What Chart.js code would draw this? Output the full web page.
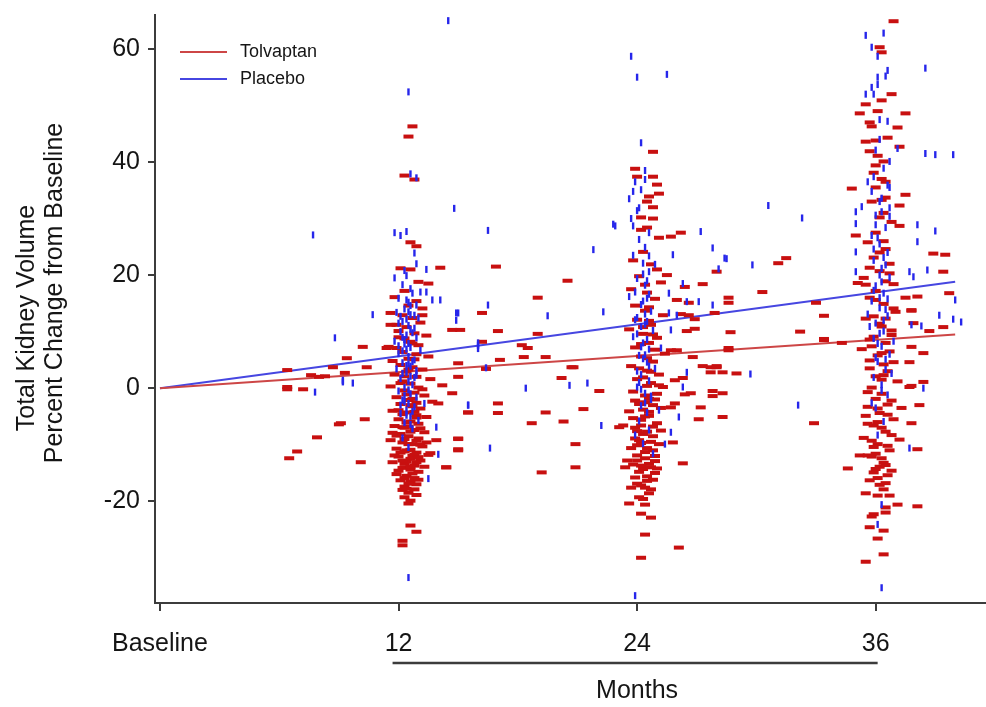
<!DOCTYPE html>
<html>
<head>
<meta charset="utf-8">
<script src="https://cdn.jsdelivr.net/npm/chart.js@4.4.1/dist/chart.umd.min.js"></script>
<style>
  html, body { margin: 0; padding: 0; background: #fff; overflow: hidden; }
  #wrap { width: 986px; height: 707px; position: relative; }
</style>
</head>
<body>
<div id="wrap"><canvas id="tkvChart"></canvas></div>
<script>
// tick values / labels
const monthTicks = [0, 12, 24, 36];
const monthLabels = ['Baseline', '12', '24', '36'];
const yTicks = [-20, 0, 20, 40, 60];

// regression lines [month, % change]
const tolvaptanTrend = [[0, 0], [40, 9.5]];
const placeboTrend = [[0, 0], [40, 18.8]];

// Tolvaptan (red) points, [month, % change]
const tolvaptan12 = [
  [12.7,46.3],[12.5,44.5],[12.3,37.6],[12.8,36.9],[12.6,25.8],[12.9,25.1],[12.1,21.2],[12.6,21],[13.0,18.8],[12.3,17.2],
  [11.8,16.1],[12.9,15.4],[12.5,14.6],[13.2,14.1],[11.6,13.3],[12.2,12.9],[12.7,12.4],[11.9,11.2],[13.1,11.6],[12.4,10.8],
  [12.0,10.1],[12.8,9.7],[13.4,9.3],[11.5,7.3],[12.3,8.8],[12.6,8.2],[13.0,7.6],[11.9,7.1],[12.2,6.4],[12.9,6.0],
  [13.5,5.6],[12.5,5.2],[11.7,4.8],[12.1,4.1],[12.7,3.7],[13.2,3.3],[12.4,2.9],[11.8,2.4],[12.9,2.0],[13.6,1.6],
  [12.2,1.2],[12.6,0.8],[11.6,0.3],[13.0,0.1],[12.3,-0.4],[12.8,-0.8],[13.3,-1.3],[11.9,-1.6],[12.5,-2.1],[13.7,-2.4],
  [12.1,-2.8],[12.7,-3.2],[13.1,-3.6],[11.7,-4.0],[12.4,-4.3],[12.9,-4.8],[13.4,-5.1],[12.0,-5.5],[12.6,-5.9],[13.0,-6.3],
  [11.8,-6.7],[12.3,-7.0],[12.8,-7.4],[13.3,-7.8],[12.1,-8.1],[12.5,-8.5],[13.0,-8.9],[11.6,-9.2],[12.2,-9.6],[12.7,-9.9],
  [13.2,-10.3],[11.9,-10.7],[12.4,-11.0],[12.9,-11.4],[13.5,-11.8],[12.0,-12.1],[12.6,-12.5],[13.1,-12.8],[11.7,-13.1],[12.3,-13.4],
  [12.8,-13.7],[12.2,-14.1],[12.6,-14.4],[13.0,-14.8],[11.9,-15.2],[12.4,-15.5],[12.8,-15.9],[12.1,-16.3],[12.6,-16.6],[12.3,-17.4],
  [12.9,-17.0],[12.5,-18.5],[12.3,-19.3],[12.5,-20.4],[12.6,-24.3],[12.9,-25.4],[12.2,-27.0],[12.2,-27.8],[14.1,21.3],[13.5,18.5],
  [14.4,-14.0],[15.0,-11.0],[15.0,-9.0],[13.9,-9.2],[13.6,-11.5],[14.0,-2.7],[14.7,-0.9],[14.2,0.5],[15.1,10.3],[14.7,10.3],
  [12.0,-3.9],[12.9,-9.3],[12.4,-6.1],[13.3,-13.9],[11.8,-11.9],[12.6,-10.9],[12.2,-4.6],[13.1,-7.1],[12.7,-12.0],[12.3,-15.9],
  [12.9,-13.1],[12.5,-9.9],[11.9,-8.4],[12.7,-1.9],[13.2,-0.2],[12.3,2.1],[12.8,5.1],[12.0,9.0],[13.2,12.9],[12.5,-16.9],
  [12.1,-11.4],[13.4,-9.6],[12.6,-7.7],[12.4,-13.0],[13.0,-16.2],[12.2,-18.0],[12.8,-17.9],[12.6,-19.9],[12.9,-2.6],[11.7,-7.9],
  [12.4,-1.1],[12.9,-5.2],[12.2,-12.8],[12.7,-15.1],[12.5,-6.8],[13.1,-10.0],[12.0,-14.6],[12.6,-3.0],[12.3,-9.0],[12.8,-11.8],
  [12.1,0.9],[12.5,3.3],[12.9,-18.9],[12.4,-17.8],[12.7,7.9],[12.2,-6.9],[13.0,-12.2],[12.6,-13.9],[12.3,-11.2],[12.8,-4.2]
];
const tolvaptan24 = [
  [24.8,41.8],[23.9,38.8],[24.0,37.4],[24.8,37.4],[25.0,36],[25.1,34.4],[24.6,33.9],[24.5,33],[24.8,32],[24.2,30.2],
  [24.8,30],[24.2,28],[24.5,28.4],[25.1,26.6],[25.7,26.8],[26.2,27.5],[25.0,21],[25.5,20],[27.3,18.4],[26.4,17.9],
  [26.0,15.6],[26.6,15.1],[28.6,16],[28.6,15.1],[27.9,13.3],[26.2,13.1],[26.6,12.9],[26.9,12.2],[28.7,9.9],[26.9,10.5],
  [26.5,10.1],[26.0,6.7],[25.7,6.7],[28.6,6.7],[26.8,5.5],[27.7,3.7],[28.0,3.7],[28.0,20.6],[27.3,3.9],[28.0,3.9],
  [27.7,2.8],[28.3,2.8],[29.0,2.6],[25.9,1.4],[26.3,1.8],[27.8,-0.5],[28.3,-0.9],[27.8,-1.4],[26.4,-1.1],[26.7,-0.9],
  [27.2,-3.4],[27.1,-5.5],[28.3,-5.1],[25.7,-3.4],[25.9,-2.7],[26.3,-13.3],[25.8,-9.6],[23.5,-12.8],[23.4,-14],[23.3,-6.6],
  [23.1,-6.9],[24.3,24.1],[23.8,22.6],[24.7,21.9],[24.1,19.8],[25.2,18.7],[23.7,17.5],[24.5,16.9],[24.9,15.8],[23.9,14.6],
  [24.4,13.7],[25.3,12.9],[24.0,12.1],[24.7,11.2],[23.6,10.4],[24.3,9.6],[25.0,8.9],[24.6,8.0],[23.9,7.2],[25.4,6.1],
  [24.2,5.6],[24.8,4.7],[23.7,3.9],[24.5,3.1],[25.1,2.4],[24.0,1.6],[24.7,0.9],[25.3,0.2],[23.8,-0.6],[24.4,-1.3],
  [24.9,-2.0],[24.1,-2.8],[25.2,-3.5],[23.6,-4.1],[24.6,-4.9],[24.2,-5.6],[25.0,-6.2],[23.9,-7.0],[24.5,-7.7],[24.8,-8.5],
  [24.1,-9.2],[25.1,-9.9],[23.7,-10.6],[24.4,-11.3],[24.9,-12.0],[24.0,-12.8],[24.6,-13.4],[24.3,-14.3],[24.9,-15.0],[23.9,-15.8],
  [24.5,-16.4],[24.2,-17.2],[24.7,-17.9],[24.4,-17.6],[24.3,-8.1],[24.8,-3.0],[24.0,-10.1],[24.6,-1.9],[23.8,-5.3],[24.4,-12.4],
  [25.0,-14.2],[24.2,-6.6],[24.7,-9.5],[24.5,0.4],[24.1,3.5],[24.9,6.8],[24.3,10.8],[24.6,14.3],[23.9,-2.2],[24.5,-15.6],
  [24.2,-13.7],[25.2,-7.5],[24.0,-16.9],[24.8,-11.0],[23.9,-8.9],[24.6,-4.2],[24.3,1.9],[24.8,9.5],[24.4,18.3],[25.0,-1.0],
  [24.1,-19.3],[23.6,-20.4],[24.4,-20.6],[24.2,-22.2],[24.7,-22.9],[24.4,-25.9],[26.1,-28.2],[24.2,-30.0],[23.7,-17.6],
  [24.5,-10.6],[24.1,-14.8],[24.8,-6.8],[24.3,-3.8],[24.6,-18.6],[24.0,-7.6],[24.9,-12.9],[24.4,-5.0],[24.7,2.9],[24.2,7.8],
  [24.6,11.9],[24.0,-11.9],[24.8,-16.2],[24.3,-19.6],[24.5,5.3],[25.1,0.5],[23.8,-13.5],[24.4,-2.5],[24.7,-14.0],[24.2,-9.7]
];
const tolvaptan36 = [
  [36.9,64.9],[36.2,60.3],[36.3,59.4],[36.8,52],[36.3,50.9],[35.5,50.2],[35.2,48.6],[36.1,49],[37.5,48.6],[35.7,47],
  [35.8,46.3],[37.1,46.1],[35.5,43.6],[36.0,43.8],[36.6,44.3],[37.2,42.7],[35.7,41.9],[36.1,41.1],[36.4,40.1],[36.0,39.4],
  [36.3,37],[36.5,36.5],[36.0,35.5],[34.8,35.3],[37.5,34.2],[35.8,33],[36.3,33.3],[36.5,33.7],[37.2,32.3],[35.0,27],
  [36.4,31],[36.8,29.4],[37.2,28.7],[38.9,23.8],[39.4,20.6],[39.7,16.8],[35.1,18.6],[35.5,18.3],[33.0,15.1],[37.5,16],
  [38.1,16.2],[37.8,13.8],[33.4,12.8],[32.2,10],[33.4,8.7],[34.3,8],[37.8,13.7],[37.9,11.5],[38.7,10.1],[39.4,10.8],
  [38.4,6.2],[37.8,7.3],[37.7,4.6],[38.4,1.1],[37.8,0.4],[37.7,0.2],[38.2,-3],[37.3,-3.5],[37.8,-6.2],[32.9,-6.2],
  [34.6,-14.2],[38.1,-10.8],[35.2,-11.9],[35.6,-11.9],[35.5,-18.6],[36.1,-19],[36.7,-19],[37.1,-20.6],[38.1,-20.9],[36.5,-21.1],
  [36.5,-22],[35.9,-22.3],[35.8,-22.7],[36.4,-25.2],[35.7,-24.6],[36.1,-26.6],[36.4,-29.4],[35.5,-30.7],[36.0,27.5],[35.6,25.8],
  [36.5,24.6],[35.9,23.1],[36.7,22.0],[36.2,20.7],[35.4,19.5],[36.9,18.4],[36.0,17.2],[35.7,16.0],[36.4,14.9],[37.0,13.5],
  [35.5,12.3],[36.2,11.4],[36.8,10.2],[35.9,9.1],[36.5,8.0],[35.3,6.9],[36.1,5.8],[36.9,4.6],[35.7,3.5],[36.4,2.3],
  [37.1,1.2],[35.8,0.1],[36.3,-1.0],[36.8,-2.2],[35.6,-3.3],[36.2,-4.4],[36.9,-5.5],[35.9,-6.6],[36.5,-7.7],[35.4,-8.8],
  [36.1,-9.9],[36.7,-11.0],[35.8,-12.1],[36.4,-13.2],[36.0,-14.3],[36.6,-15.4],[35.7,-16.3],[36.2,-17.1],[36.5,-13.6],[35.9,-10.4],
  [36.8,-8.3],[36.1,-6.0],[35.6,-0.7],[36.6,3.0],[35.8,7.4],[36.3,10.9],[36.9,14.1],[35.7,21.3],[36.4,26.0],[36.2,30.2],
  [35.9,38.1],[36.6,-2.9],[36.0,-11.6],[37.2,-9.1],[35.5,-4.9],[36.3,1.5],[36.7,6.5],[35.9,12.7],[36.5,18.9],[36.1,-15.9],
  [36.8,-14.6],[36.3,-7.0],[35.7,4.9],
  [36.3,-12.4],[35.8,-9.3],[36.6,-4.7],[36.0,-1.9],[36.4,4.2],[35.7,8.6],[36.5,12.3],[36.0,15.6],[36.7,20.3],[36.2,24.0],
  [35.9,-14.9],[36.4,-17.9],[36.1,-3.6],[36.6,-10.2],[35.6,-6.3],[36.3,6.2],[36.8,9.4],[36.0,2.1],[36.5,-16.8],[36.2,-13.9]
];
const tolvaptanOther = [
  [6.4,3.2],[6.4,0.2],[6.4,-0.2],[7.2,-0.2],[7.6,2.3],[8.0,2.0],[8.3,2.1],[8.7,3.7],[9.4,5.3],[9.0,-6.4],
  [7.9,-8.7],[6.9,-11.2],[6.5,-12.4],[10.2,7.3],[11.6,11.2],[11.4,7.1],[10.4,3.7],[9.3,2.7],[10.3,-5.5],[10.1,-13.1],
  [9.1,-6.2],[15.5,-4.3],[16.9,21.5],[20.5,19],[19.0,16],[16.2,13.3],[17.0,10.1],[19.0,9.6],[16.2,8.2],[18.2,7.6],
  [18.5,7.1],[17.1,5],[18.3,5.5],[19.4,5.5],[20.7,3.7],[16.4,3.4],[15.0,4.4],[15.0,2.0],[20.2,1.8],[22.1,-0.5],
  [17.0,-2.7],[17.0,-4.4],[19.4,-4.3],[21.3,-3.7],[18.7,-6.2],[20.3,-5.9],[15.0,-8.9],[15.0,-10.8],[20.9,-9.9],[14.4,-14],
  [20.9,-14],[19.2,-14.9],[20.8,3.7],[31.5,23],[31.1,22.1],[30.3,17],[28.6,7.1],[33.4,8.5],[39.5,23.6],[15.5,-4.3]
];

// Placebo (blue) points, [month, % change]
const placebo12 = [
  [12.5,52.4],[12.6,37.9],[12.9,37.2],[11.8,27.5],[12.1,27],[12.4,27.7],[12.9,22],[13.4,21],[11.8,19.5],[12.4,19.9],
  [13.1,17],[13.7,15.6],[12.2,18.3],[12.7,16.8],[12.0,15.9],[12.5,15.2],[12.9,14.7],[12.3,14.0],[11.9,13.4],[12.6,13.0],
  [13.0,12.4],[12.2,11.8],[12.5,11.1],[12.8,10.6],[12.1,10.0],[12.4,9.4],[12.9,8.9],[11.8,8.3],[12.3,7.8],[12.6,7.2],
  [13.1,6.7],[12.0,6.1],[12.5,5.6],[12.8,5.0],[12.2,4.5],[12.6,3.9],[11.9,3.4],[12.4,2.8],[12.9,2.3],[12.1,1.7],
  [12.5,1.2],[12.7,0.6],[12.3,0.1],[12.0,-0.5],[12.6,-1.0],[12.9,-1.6],[12.2,-2.1],[12.5,-2.7],[12.8,-3.3],[12.4,-3.9],
  [12.1,-4.5],[12.6,-5.0],[12.3,-6.1],[12.7,-7.2],[12.2,-8.8],[12.5,-10.5],[13.0,-5.7],[13.9,-6.9],[13.3,-2.7],[14.0,-11.7],
  [13.5,-16.0],[13.4,17.0],[14.1,15.6],[14.9,13.3],[14.9,12.0],[10.7,13.0],[12.5,-33.5],[15.5,-3.0],[16.0,8.0],[12.4,12.2],
  [12.7,9.8],[12.0,7.5],[12.5,4.3],[12.3,-1.3],[12.8,1.9],[12.2,6.6],[12.6,10.4],[12.4,15.6],[12.9,3.1],[12.1,-3.0],
  [12.6,-6.4],[12.3,8.6],[12.8,12.9],[12.5,-0.3],[12.2,2.6],[12.7,4.7],[12.4,-4.8],[12.0,11.5],[12.6,17.6],[12.3,20.8],
  [12.8,23.9],[12.4,6.9],[12.6,2.1],[12.2,9.0],[12.5,13.5],[12.3,-2.4],[12.7,-4.1],[12.4,4.0],[12.6,14.6],[12.1,12.7],
  [12.5,7.9]
];
const placebo24 = [
  [23.7,58.7],[24.0,55],[25.5,55.5],[24.2,43.4],[24.4,38.5],[24.4,36.9],[23.9,36.5],[23.8,34.8],[23.6,33.5],[24.2,35.1],
  [24.0,31.4],[23.7,30],[23.8,28.7],[22.9,28.7],[27.2,27.7],[27.8,24.8],[25.8,23.6],[28.4,23],[28.1,21.1],[26.3,18.5],
  [25.6,16.8],[26.5,15.3],[27.1,15.3],[27.8,14.7],[25.6,13.3],[26.0,12.9],[25.7,10.3],[26.5,2.8],[29.7,2.5],[26.3,0.2],
  [26.1,-5.1],[25.7,-7.8],[25.4,-9.9],[23.9,-36.7],[24.1,26.3],[24.4,24.9],[23.8,23.5],[24.3,22.1],[24.6,20.6],[24.0,19.4],
  [24.4,18.2],[23.9,17.0],[24.5,15.9],[24.2,14.8],[24.7,13.6],[24.0,12.5],[24.4,11.3],[24.8,10.2],[23.8,9.1],[24.3,8.0],
  [24.6,6.9],[24.1,5.8],[24.5,4.6],[24.9,3.5],[24.2,2.4],[24.6,1.3],[24.0,0.2],[24.4,-0.9],[24.7,-2.0],[24.2,-3.1],
  [24.5,-4.3],[24.1,-5.8],[24.6,-7.4],[24.3,-9.8],[24.8,-11.6],[24.9,21.9],[23.6,16.2],[24.6,27.5],[24.1,31.9],[24.5,8.6],
  [24.2,10.9],[24.6,16.6],[24.0,3.0],[24.4,13.1],[24.3,5.2],[24.7,-1.4],[23.9,12.1],[24.5,19.0],[24.2,-0.2],[25.1,-3.9],
  [25.2,7.1],[23.9,-8.3],[24.3,15.4],[24.5,11.8],[24.2,7.3],[24.6,3.9],[24.1,1.0],[24.4,-2.6],[24.3,20.2],[24.6,23.4],
  [24.0,9.6],[24.4,5.9]
];
const placebo36 = [
  [35.5,62.4],[36.4,62.8],[35.8,60.3],[36.1,58.7],[38.5,56.6],[36.6,56.2],[36.5,55.2],[36.1,55],[36.1,53.7],[35.8,53.2],
  [35.5,52],[35.9,52],[36.2,47.5],[36.6,47.2],[37.1,42.4],[38.5,41.5],[39.0,41.3],[39.9,41.3],[36.7,40.1],[35.6,36.5],
  [35.8,34.8],[36.7,35.5],[35.0,31.2],[35.0,29.1],[35.3,32.1],[36.7,31.9],[38.1,28.9],[39.0,27.8],[35.0,24.1],[38.1,25.9],
  [35.0,20.6],[37.7,20.6],[37.9,19.7],[38.6,20.9],[39.2,12.9],[39.9,12.2],[37.8,11.2],[38.3,11],[38.4,0],[37.7,-10.6],
  [36.3,-20.6],[36.1,-24.1],[36.3,-35.3],[40.0,15.6],[36.2,44.0],[36.0,42.1],[36.4,38.9],[35.9,37.4],[36.3,33.6],[36.0,30.6],
  [36.5,28.4],[35.8,27.0],[36.2,25.5],[36.6,24.0],[35.9,22.6],[36.3,21.2],[36.7,19.6],[36.0,18.1],[36.4,16.8],[35.8,15.4],
  [36.2,14.2],[36.6,12.8],[36.0,11.5],[36.4,10.1],[35.9,8.8],[36.3,7.4],[36.7,6.0],[36.1,4.7],[36.5,3.3],[35.9,1.9],
  [36.3,0.6],[36.6,-1.2],[36.0,-3.5],[36.4,-5.9],[36.1,-8.3],[35.8,-2.6],[36.8,2.6],[36.2,9.7],[36.5,13.9],[35.9,17.3],
  [36.4,23.1],[36.1,26.6],[36.7,30.4],[36.2,20.0],[35.7,10.9],[36.6,15.8],[36.0,5.4],[36.3,-0.4],[36.9,8.3],[35.6,13.1],
  [36.2,33.0],[36.3,31.2],[36.0,28.9],[36.5,21.8],[36.2,16.0],[36.4,12.0],[36.1,7.9],[36.5,5.1],[35.9,24.6],[36.3,18.8],
  [36.6,35.9]
];
const placeboOther = [
  [7.7,27.1],[8.8,8.9],[7.8,-0.7],[9.2,1.1],[9.7,0.9],[9.2,1.4],[14.5,65],[14.8,31.8],[16.5,27.9],[22.8,29],
  [21.8,24.5],[16.5,14.7],[15.0,13.3],[19.5,12.8],[22.3,13.5],[16.0,7.6],[16.0,7.0],[16.4,3.6],[18.4,0],[20.6,0.5],
  [21.5,0.9],[15.5,-3],[22.2,-6.6],[16.6,-10.6],[30.6,32.3],[32.3,30.1],[28.5,22.9],[29.8,21.8],[32.1,-3],[40.3,11.7]
];

const toXY = (pts) => pts.map(p => ({ x: p[0], y: p[1] }));

const RED = 'rgb(200, 16, 16)';
const BLUE = 'rgb(38, 38, 235)';
const AXIS = '#3c3c3c';
const TEXT = '#151515';
const FONT = '"Liberation Sans", Arial, sans-serif';

Chart.defaults.font.family = FONT;

const redStyle = { pointStyle: 'line', pointRadius: 5, pointBorderWidth: 4, borderColor: RED, backgroundColor: RED, showLine: false, order: 2 };
const blueStyle = { pointStyle: 'line', pointRotation: 90, pointRadius: 3.5, pointBorderWidth: 2.4, borderColor: BLUE, backgroundColor: BLUE, showLine: false, order: 1 };

// scales add label padding of their own; keep the plot box where the picture has it
const noScalePadding = (scale) => {
  scale.paddingTop = 0;
  scale.paddingBottom = 0;
  scale.paddingLeft = 0;
  scale.paddingRight = 0;
};

// legend, y title, "Months" bracket
const extras = {
  id: 'extras',
  afterDraw(chart) {
    const ctx = chart.ctx;
    const xs = chart.scales.x;
    ctx.save();
    ctx.fillStyle = TEXT;

    // y title, two lines
    ctx.font = '25px ' + FONT;
    ctx.textAlign = 'center';
    ctx.textBaseline = 'middle';
    ctx.save();
    ctx.translate(27, 318);
    ctx.rotate(-Math.PI / 2);
    ctx.fillText('Total Kidney Volume', 0, 0);
    ctx.restore();
    ctx.save();
    ctx.translate(55, 293);
    ctx.rotate(-Math.PI / 2);
    ctx.fillText('Percent Change from Baseline', 0, 0);
    ctx.restore();

    // bracket under the month ticks + "Months"
    ctx.strokeStyle = AXIS;
    ctx.lineWidth = 2.5;
    ctx.beginPath();
    ctx.moveTo(xs.getPixelForValue(11.7), 663);
    ctx.lineTo(xs.getPixelForValue(36.1), 663);
    ctx.stroke();
    ctx.fillText('Months', xs.getPixelForValue(24), 691);

    // legend
    const items = [['Tolvaptan', 'rgb(205, 70, 70)', 52], ['Placebo', 'rgb(70, 70, 225)', 79]];
    ctx.font = '18px ' + FONT;
    ctx.textAlign = 'left';
    items.forEach(([label, color, y]) => {
      ctx.strokeStyle = color;
      ctx.lineWidth = 2;
      ctx.beginPath();
      ctx.moveTo(180, y);
      ctx.lineTo(227, y);
      ctx.stroke();
      ctx.fillStyle = TEXT;
      ctx.fillText(label, 240, y);
    });
    ctx.restore();
  }
};

new Chart(document.getElementById('tkvChart'), {
  type: 'scatter',
  data: {
    datasets: [
      { label: 'Tolvaptan trend', type: 'line', data: toXY(tolvaptanTrend), borderColor: 'rgb(205, 70, 70)', borderWidth: 2, pointRadius: 0, order: 3 },
      { label: 'Placebo trend', type: 'line', data: toXY(placeboTrend), borderColor: 'rgb(70, 70, 225)', borderWidth: 2, pointRadius: 0, order: 3 },
      Object.assign({ label: 'Tolvaptan 12', data: toXY(tolvaptan12) }, redStyle),
      Object.assign({ label: 'Tolvaptan 24', data: toXY(tolvaptan24) }, redStyle),
      Object.assign({ label: 'Tolvaptan 36', data: toXY(tolvaptan36) }, redStyle),
      Object.assign({ label: 'Tolvaptan other', data: toXY(tolvaptanOther) }, redStyle),
      Object.assign({ label: 'Placebo 12', data: toXY(placebo12) }, blueStyle),
      Object.assign({ label: 'Placebo 24', data: toXY(placebo24) }, blueStyle),
      Object.assign({ label: 'Placebo 36', data: toXY(placebo36) }, blueStyle),
      Object.assign({ label: 'Placebo other', data: toXY(placeboOther) }, blueStyle)
    ]
  },
  options: {
    responsive: true,
    maintainAspectRatio: false,
    animation: false,
    layout: { autoPadding: false, padding: { top: 15, right: 1, left: 0, bottom: 0 } },
    plugins: { legend: { display: false }, tooltip: { enabled: false } },
    scales: {
      x: {
        type: 'linear',
        min: -0.25,
        max: 41.5,
        afterBuildTicks: (scale) => { scale.ticks = monthTicks.map(v => ({ value: v })); },
        afterFit: (scale) => { scale.height = 104; noScalePadding(scale); },
        border: { display: true, color: AXIS, width: 2 },
        grid: { display: true, drawOnChartArea: false, drawTicks: true, tickLength: 8, color: AXIS, lineWidth: 2 },
        ticks: {
          color: TEXT,
          font: { size: 25 },
          padding: 18,
          maxRotation: 0,
          autoSkip: false,
          callback: (v) => monthLabels[monthTicks.indexOf(v)]
        }
      },
      y: {
        min: -38,
        max: 66,
        afterBuildTicks: (scale) => { scale.ticks = yTicks.map(v => ({ value: v })); },
        afterFit: (scale) => { scale.width = 155; noScalePadding(scale); },
        border: { display: true, color: AXIS, width: 2 },
        grid: { display: true, drawOnChartArea: false, drawTicks: true, tickLength: 7, color: AXIS, lineWidth: 2 },
        ticks: { color: TEXT, font: { size: 25 }, padding: 8 }
      }
    }
  },
  plugins: [extras]
});
</script>
</body>
</html>
